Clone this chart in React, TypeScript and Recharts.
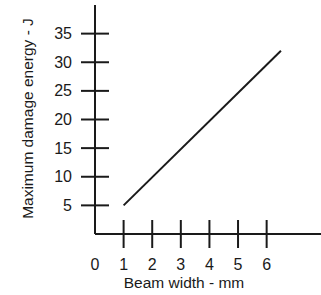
import React from 'react'
import { LineChart, Line, XAxis, YAxis, Label } from 'recharts'

document.body.style.margin = '0'

// Beam width (mm) vs maximum damage energy (J)
const beamWidth = [1, 6.5]
const damageEnergy = [5, 32]
const xTicks = [0, 1, 2, 3, 4, 5, 6]
const yTicks = [5, 10, 15, 20, 25, 30, 35]

const data = beamWidth.map((w, i) => ({ width: w, energy: damageEnergy[i] }))

const ink = '#1a1a1a'
const font = 'Liberation Sans, Arial, sans-serif'

const XTick = ({ x, y, payload }: any) => (
  <g>
    {payload.value !== 0 && (
      <line x1={x} x2={x} y1={y - 14} y2={y + 14} stroke={ink} strokeWidth={2} />
    )}
    <text x={x} y={y + 30} textAnchor="middle" dominantBaseline="central" fill={ink} fontSize={16} fontFamily={font}>
      {payload.value}
    </text>
  </g>
)

const YTick = ({ x, y, payload }: any) => (
  <g>
    <line x1={x - 14} x2={x + 14} y1={y} y2={y} stroke={ink} strokeWidth={2} />
    <text x={x - 23} y={y} textAnchor="end" dominantBaseline="central" fill={ink} fontSize={16} fontFamily={font}>
      {payload.value}
    </text>
  </g>
)

export default function App() {
  return (
    <div style={{ width: 321, height: 295, background: '#fff' }}>
      <LineChart width={321} height={295} data={data} margin={{ top: 5, right: 0, left: 0, bottom: 0 }}>
        <XAxis
          type="number"
          dataKey="width"
          domain={[0, 7.9]}
          ticks={xTicks}
          interval={0}
          tickSize={0}
          tickMargin={0}
          tickLine={false}
          tick={<XTick />}
          height={61}
          axisLine={{ stroke: ink, strokeWidth: 2 }}
        >
          <Label
            content={({ viewBox }: any) => (
              <text x={viewBox.x + 89} y={viewBox.y + 48} textAnchor="middle" dominantBaseline="central" fill={ink} fontSize={15.5} fontFamily={font}>
                Beam width - mm
              </text>
            )}
          />
        </XAxis>
        <YAxis
          type="number"
          domain={[0, 40]}
          ticks={yTicks}
          interval={0}
          width={95}
          tickSize={0}
          tickMargin={0}
          tickLine={false}
          tick={<YTick />}
          axisLine={{ stroke: ink, strokeWidth: 2 }}
        >
          <Label
            content={({ viewBox }: any) => {
              const cx = viewBox.x + 27
              const cy = viewBox.y + viewBox.height / 2 - 1
              return (
                <text x={cx} y={cy} transform={`rotate(-90 ${cx} ${cy})`} textAnchor="middle" dominantBaseline="central" fill={ink} fontSize={15.5} fontFamily={font}>
                  Maximum damage energy - J
                </text>
              )
            }}
          />
        </YAxis>
        <Line
          type="linear"
          dataKey="energy"
          stroke={ink}
          strokeWidth={2}
          dot={false}
          isAnimationActive={false}
        />
      </LineChart>
    </div>
  )
}
